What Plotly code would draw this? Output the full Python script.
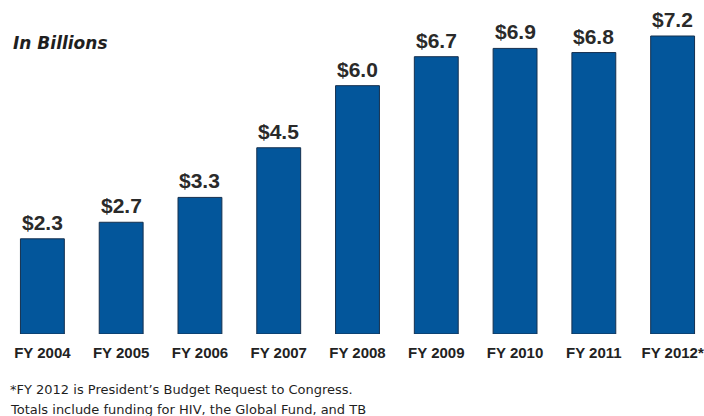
import plotly.graph_objects as go

years = ["FY 2004", "FY 2005", "FY 2006", "FY 2007", "FY 2008",
         "FY 2009", "FY 2010", "FY 2011", "FY 2012*"]
values = [2.3, 2.7, 3.3, 4.5, 6.0, 6.7, 6.9, 6.8, 7.2]
value_labels = ["$2.3", "$2.7", "$3.3", "$4.5", "$6.0", "$6.7", "$6.9", "$6.8", "$7.2"]
unit_note = "In Billions"
footnote = ["*FY 2012 is President\u2019s Budget Request to Congress.",
            "Totals include funding for HIV, the Global Fund, and TB"]

fig = go.Figure()
fig.add_trace(go.Bar(
    x=years, y=values, width=0.557,
    marker=dict(color="#03569b", line=dict(color="#15304f", width=1)),
    hoverinfo="skip",
))

for cat, v, lab in zip(years, values, value_labels):
    fig.add_annotation(x=cat, y=v, text=lab, showarrow=False,
                       xanchor="center", yanchor="bottom", yshift=3,
                       font=dict(family="Liberation Sans, Arial", size=21,
                                 color="#2a2a2a", weight="bold"))

fig.add_annotation(xref="paper", yref="paper", x=0, y=1, xshift=8,
                   yshift=-43, text=unit_note, showarrow=False,
                   xanchor="left", yanchor="middle",
                   font=dict(family="DejaVu Sans", size=17, color="#1f1f1f",
                             weight="bold", style="italic"))

for i, line in enumerate(footnote):
    fig.add_annotation(xref="paper", yref="paper", x=0, y=0, xshift=5,
                       yshift=-55 - 20 * i, text=line, showarrow=False,
                       xanchor="left", yanchor="middle",
                       font=dict(family="DejaVu Sans", size=13, color="#1f1f1f"))

fig.update_layout(
    width=704, height=416,
    margin=dict(l=3, r=0, t=0, b=82),
    paper_bgcolor="white", plot_bgcolor="white",
    showlegend=False,
    xaxis=dict(range=[-0.5, 8.373], showgrid=False, showline=False,
               zeroline=False, ticks="", ticklabelstandoff=8,
               tickfont=dict(family="Liberation Sans, Arial", size=15,
                             color="#222222", weight="bold")),
    yaxis=dict(range=[0, 8.07], visible=False, showgrid=False),
)

fig.write_html("out.html")
